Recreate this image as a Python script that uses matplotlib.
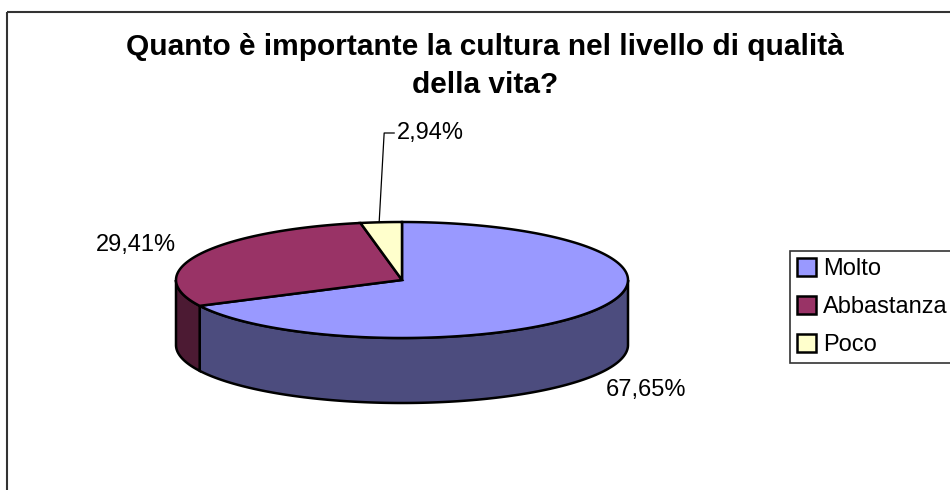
import numpy as np
import matplotlib.pyplot as plt
from matplotlib.patches import Rectangle, Patch

plt.rcParams['font.family'] = ['Liberation Sans', 'DejaVu Sans']

title = "Quanto è importante la cultura nel livello di qualità\ndella vita?"
categories = ["Molto", "Abbastanza", "Poco"]
shares = [67.65, 29.41, 2.94]
labels = ["67,65%", "29,41%", "2,94%"]
top_colors = ["#9999FF", "#993366", "#FFFFCC"]
side_colors = ["#4C4C7E", "#4C1A33", "#80806A"]

# pie geometry in pixel units
cx, cy = 402, 280
rx, ry = 226, 58
depth = 65


def rim(a0, a1, n=200):
    t = np.radians(np.linspace(a0, a1, n))
    return cx + rx * np.cos(t), cy - ry * np.sin(t)


def draw_pie(ax):
    # angles run clockwise from 12 o'clock
    total = sum(shares)
    starts, ends = [], []
    a = 90.0
    for v in shares:
        starts.append(a)
        a -= 360.0 * v / total
        ends.append(a)

    # visible side wall: front half, angles between 180 and 360
    for s, e, col in zip(starts, ends, side_colors):
        lo, hi = e % 360, s % 360
        if hi <= lo:
            hi += 360
        for off in (0, 360, -360):
            a0 = max(lo + off, 180)
            a1 = min(hi + off, 360)
            if a1 > a0:
                x, y = rim(a0, a1)
                px = np.concatenate([x, x[::-1]])
                py = np.concatenate([y, y[::-1] + depth])
                ax.fill(px, py, facecolor=col, edgecolor='black', lw=1.8, zorder=2)

    # top face wedges
    for s, e, col in zip(starts, ends, top_colors):
        x, y = rim(e, s)
        px = np.concatenate([[cx], x, [cx]])
        py = np.concatenate([[cy], y, [cy]])
        ax.fill(px, py, facecolor=col, edgecolor='black', lw=1.8, zorder=3,
                joinstyle='miter')
    return starts, ends


fig = plt.figure(figsize=(9.5, 4.9), dpi=100)
ax = fig.add_axes([0, 0, 1, 1])
ax.set_xlim(0, 950)
ax.set_ylim(490, 0)
ax.axis('off')

ax.add_patch(Rectangle((7, 12), 960, 500, fill=False, edgecolor='#333333', lw=1.5))

starts, ends = draw_pie(ax)

ax.text(485, 66, title, ha='center', va='center', fontsize=21.5, fontweight='bold',
        linespacing=1.45)

# value labels
ax.text(646, 390, labels[0], ha='center', va='center', fontsize=17)
ax.text(136, 245, labels[1], ha='center', va='center', fontsize=17)
mid = np.radians((starts[2] + ends[2]) / 2)
lx, ly = cx + rx * np.cos(mid), cy - ry * np.sin(mid)
ax.plot([lx - 2, lx + 3, lx + 13], [ly, 133, 133], color='black', lw=0.9, zorder=4)
ax.text(397, 133, labels[2], ha='left', va='center', fontsize=17)

handles = [Patch(facecolor=c, edgecolor='black', lw=1.8) for c in top_colors]
leg = fig.legend(handles, categories, loc='upper left',
                 bbox_to_anchor=(790 / 950, 1 - 251 / 490), fontsize=17,
                 frameon=True, fancybox=False, edgecolor='black',
                 handlelength=0.8, handleheight=0.8, handletextpad=0.3,
                 labelspacing=0.66, borderpad=0.3, borderaxespad=0)
leg.get_frame().set_linewidth(1.2)

fig.savefig('out.png', dpi=100, facecolor='white')
